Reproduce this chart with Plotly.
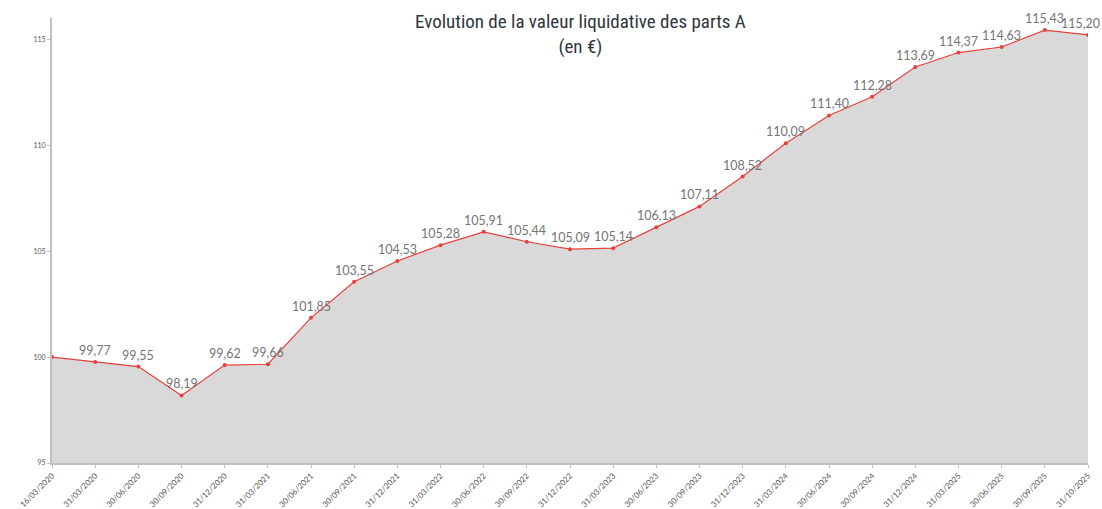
import plotly.graph_objects as go

dates = ["16/03/2020", "31/03/2020", "30/06/2020", "30/09/2020", "31/12/2020",
         "31/03/2021", "30/06/2021", "30/09/2021", "31/12/2021", "31/03/2022",
         "30/06/2022", "30/09/2022", "31/12/2022", "31/03/2023", "30/06/2023",
         "30/09/2023", "31/12/2023", "31/03/2024", "30/06/2024", "30/09/2024",
         "31/12/2024", "31/03/2025", "30/06/2025", "30/09/2025", "31/10/2025"]
values = [100.00, 99.77, 99.55, 98.19, 99.62,
          99.66, 101.85, 103.55, 104.53, 105.28,
          105.91, 105.44, 105.09, 105.14, 106.13,
          107.11, 108.52, 110.09, 111.40, 112.28,
          113.69, 114.37, 114.63, 115.43, 115.20]
y_ticks = [95, 100, 105, 110, 115]

fig = go.Figure()
fig.add_trace(go.Scatter(
    x=dates, y=values, mode="lines+markers",
    fill="tozeroy", fillcolor="#d9d9d9",
    line=dict(color="#e8403a", width=1.2),
    marker=dict(color="#e8403a", size=4),
    hoverinfo="skip",
))

annotations = [dict(
    text="Evolution de la valeur liquidative des parts A<br>(en €)",
    x=0.51, y=1.0, xref="paper", yref="paper", xanchor="center", yanchor="top",
    yshift=10, showarrow=False,
    font=dict(family="Liberation Sans Narrow, Roboto Condensed, sans-serif", size=19, color="#2f363d"),
)]
n = len(dates)
for i, (d, v) in enumerate(zip(dates, values)):
    if i == 0:
        continue
    annotations.append(dict(
        x=d, y=v, xref="x", yref="y", text=f"{v:.2f}".replace(".", ","),
        showarrow=False, yanchor="bottom", yshift=2,
        xshift=-8 if i == n - 1 else 0,
        font=dict(family="Lato, Open Sans, sans-serif", size=12.5, color="#757575"),
    ))

fig.update_layout(
    width=1102, height=509,
    margin=dict(l=52, r=14, t=18, b=46, autoexpand=False),
    paper_bgcolor="white", plot_bgcolor="white",
    showlegend=False,
    annotations=annotations,
)
fig.update_xaxes(
    type="category", range=[0, n - 1], automargin=False,
    showgrid=False, showline=True, linecolor="#c0c0c0", linewidth=2,
    ticks="outside", ticklen=3, tickcolor="#c0c0c0",
    tickangle=-45, tickfont=dict(family="Lato, sans-serif", size=8, color="#555"),
)
fig.update_yaxes(
    range=[95, 116], tickvals=y_ticks, automargin=False,
    showgrid=False, showline=True, linecolor="#c0c0c0", linewidth=2,
    ticks="outside", ticklen=3, tickcolor="#c0c0c0",
    tickfont=dict(family="Lato, sans-serif", size=7, color="#555"),
    zeroline=False,
)

fig.write_html("out.html", config={"displayModeBar": False, "staticPlot": True},
               post_script="document.body.style.margin='0';document.body.style.overflow='hidden';")
